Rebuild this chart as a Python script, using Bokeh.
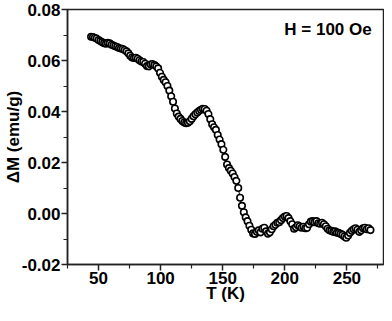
from bokeh.plotting import figure
from bokeh.models import Range1d, Label, FixedTicker
from bokeh.embed import file_html
from bokeh.resources import INLINE

T = [44.0, 45.5, 47.0, 48.5, 50.0, 51.5, 53.0, 54.5, 56.0, 57.5, 59.0, 60.5, 62.0, 63.5,
     65.0, 66.5, 68.0, 69.5, 71.0, 72.5, 74.0, 75.5, 77.0, 78.5, 80.0, 81.5, 83.0, 84.5,
     86.0, 87.5, 89.0, 90.5, 92.0, 93.5, 95.0, 96.5, 98.0, 99.5, 101.0, 102.5, 104.0,
     105.5, 107.0, 108.5, 110.0, 111.5, 113.0, 114.5, 116.0, 117.5, 119.0, 120.5, 122.0,
     123.5, 125.0, 126.5, 128.0, 129.5, 131.0, 132.5, 134.0, 135.5, 137.0, 138.5, 140.0,
     141.5, 143.0, 144.5, 146.0, 147.5, 149.0, 150.5, 152.0, 153.5, 155.0, 156.5, 158.0,
     159.5, 161.0, 162.5, 164.0, 165.5, 167.0, 168.5, 170.0, 171.5, 173.0, 174.5, 176.0,
     177.5, 179.0, 180.5, 182.0, 183.5, 185.0, 186.5, 188.0, 189.5, 191.0, 192.5, 194.0,
     195.5, 197.0, 198.5, 200.0, 201.5, 203.0, 204.5, 206.0, 207.5, 209.0, 210.5, 212.0,
     213.5, 215.0, 216.5, 218.0, 219.5, 221.0, 222.5, 224.0, 225.5, 227.0, 228.5, 230.0,
     231.5, 233.0, 234.5, 236.0, 237.5, 239.0, 240.5, 242.0, 243.5, 245.0, 246.5, 248.0,
     249.5, 251.0, 252.5, 254.0, 255.5, 257.0, 258.5, 260.0, 261.5, 263.0, 264.5, 266.0,
     267.5, 269.0]

dM = [0.0693, 0.0692, 0.0689, 0.0686, 0.0680, 0.0676, 0.0672, 0.0668, 0.0666, 0.0669,
      0.0667, 0.0662, 0.0659, 0.0656, 0.0653, 0.0649, 0.0647, 0.0645, 0.0641, 0.0636,
      0.0628, 0.0619, 0.0612, 0.0610, 0.0611, 0.0607, 0.0601, 0.0596, 0.0594, 0.0587,
      0.0578, 0.0577, 0.0584, 0.0586, 0.0582, 0.0577, 0.0569, 0.0552, 0.0536, 0.0524,
      0.0515, 0.0500, 0.0482, 0.0460, 0.0438, 0.0412, 0.0392, 0.0380, 0.0371, 0.0363,
      0.0357, 0.0354, 0.0356, 0.0362, 0.0371, 0.0381, 0.0389, 0.0396, 0.0402, 0.0407,
      0.0411, 0.0410, 0.0403, 0.0390, 0.0370, 0.0350, 0.0338, 0.0328, 0.0308, 0.0290,
      0.0272, 0.0250, 0.0222, 0.0192, 0.0178, 0.0168, 0.0157, 0.0143, 0.0128, 0.0100,
      0.0062, 0.0030, 0.0005, -0.0015, -0.0030, -0.0048, -0.0064, -0.0078, -0.0080,
      -0.0072, -0.0066, -0.0074, -0.0060, -0.0056, -0.0070, -0.0079, -0.0074, -0.0062,
      -0.0050, -0.0044, -0.0036, -0.0034, -0.0026, -0.0018, -0.0012, -0.0010, -0.0018,
      -0.0030, -0.0042, -0.0060, -0.0054, -0.0046, -0.0050, -0.0056, -0.0052, -0.0058,
      -0.0056, -0.0042, -0.0032, -0.0030, -0.0034, -0.0030, -0.0038, -0.0040, -0.0036,
      -0.0042, -0.0050, -0.0060, -0.0066, -0.0068, -0.0072, -0.0070, -0.0075, -0.0076,
      -0.0080, -0.0084, -0.0090, -0.0095, -0.0086, -0.0076, -0.0068, -0.0062, -0.0058,
      -0.0064, -0.0072, -0.0066, -0.0058, -0.0056, -0.0062, -0.0058, -0.0065]

x_ticks = [50, 100, 150, 200, 250]
y_ticks = [-0.02, 0.00, 0.02, 0.04, 0.06, 0.08]
y_tick_labels = {-0.02: "-0.02", 0.0: "0.00", 0.02: "0.02", 0.04: "0.04", 0.06: "0.06", 0.08: "0.08"}
annotation = "H = 100 Oe"

FONT = "Liberation Sans"
FS = "17px"

p = figure(width=384, height=305, output_backend="svg", toolbar_location=None,
           x_range=Range1d(25, 279.5), y_range=Range1d(-0.02, 0.08),
           min_border_left=10, min_border_right=1, min_border_top=9, min_border_bottom=10)

p.grid.visible = False
p.background_fill_color = "white"
p.border_fill_color = "white"
p.outline_line_color = "#222222"
p.outline_line_width = 1.5

p.line(T, dM, line_color="black", line_width=1)
p.scatter(T, dM, marker="circle", size=6.5, fill_color="white", line_color="black", line_width=1.6)

for ax in (p.xaxis, p.yaxis):
    ax.axis_line_width = 1.5
    ax.axis_line_color = "#222222"
    ax.major_tick_line_width = 1.5
    ax.minor_tick_line_width = 1.2
    ax.major_tick_line_color = "#222222"
    ax.minor_tick_line_color = "#222222"
    ax.major_tick_out = 6
    ax.major_tick_in = 0
    ax.minor_tick_out = 4
    ax.minor_tick_in = 0
    ax.major_label_text_font = FONT
    ax.major_label_text_font_style = "bold"
    ax.major_label_text_font_size = FS
    ax.major_label_text_color = "black"
    ax.axis_label_text_font = FONT
    ax.axis_label_text_font_style = "bold"
    ax.axis_label_text_font_size = FS
    ax.axis_label_text_color = "black"
    ax.major_label_standoff = 1

p.yaxis.axis_label_standoff = -4
p.xaxis.axis_label_standoff = -3

p.xaxis.ticker = FixedTicker(ticks=x_ticks, minor_ticks=[25, 75, 125, 175, 225, 275])
p.yaxis.ticker = FixedTicker(ticks=y_ticks, minor_ticks=[-0.01, 0.01, 0.03, 0.05, 0.07])
p.yaxis.major_label_overrides = y_tick_labels
p.xaxis.axis_label = "T (K)"
p.yaxis.axis_label = "\u0394M (emu/g)"

p.add_layout(Label(x=270, y=0.0758, text=annotation, text_align="right", text_baseline="top",
                   text_font=FONT, text_font_style="bold", text_font_size=FS, text_color="black"))

open("out.html", "w").write(file_html(p, INLINE))
